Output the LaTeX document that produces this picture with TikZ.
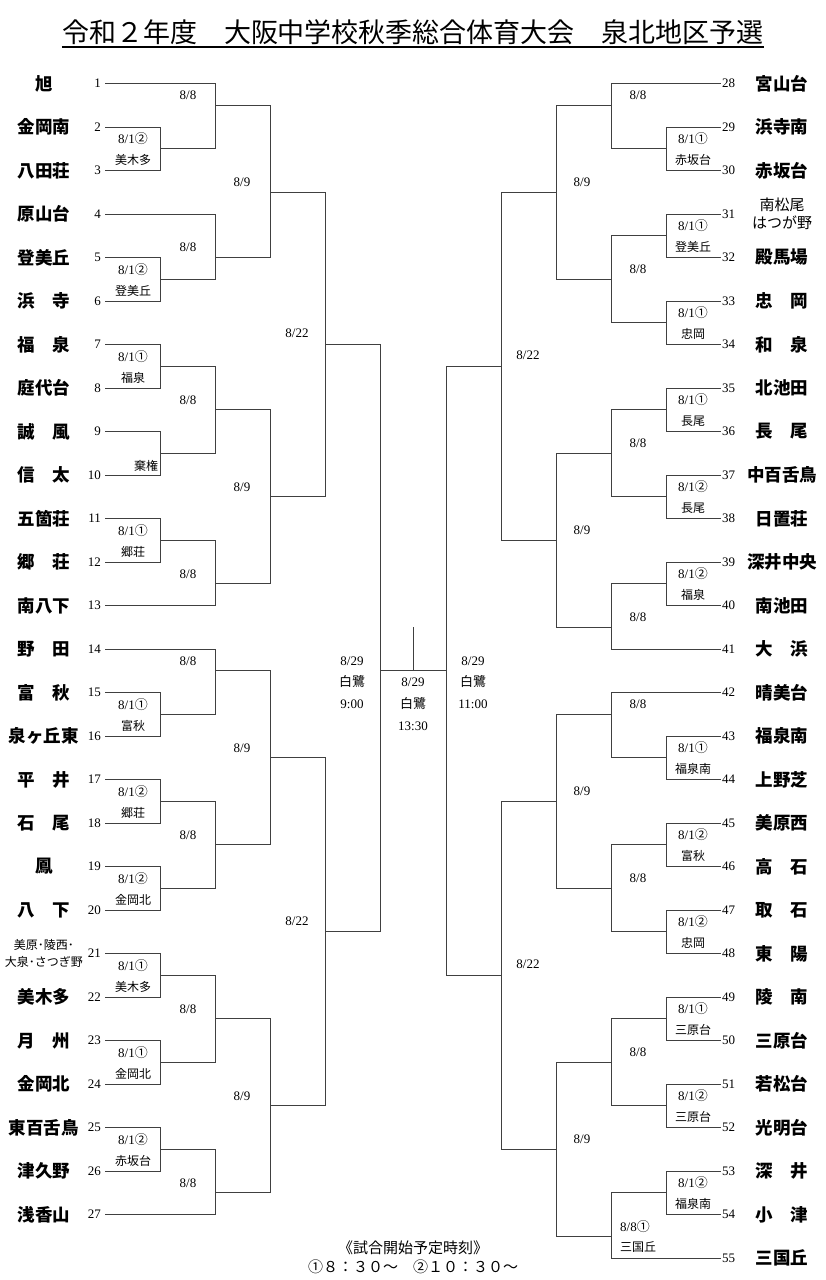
\documentclass[tikz,border=0pt]{standalone}
\usepackage{fontspec}
\setmainfont{Noto Sans CJK JP}
\newfontfamily\numfont{Liberation Serif}
\usetikzlibrary{
    positioning
}

\newcommand{\maru}[1]{{\normalfont #1}}

\tikzset{
    bracket/.style={
        line width=1pt,
        draw=black!75,
        line cap=rect
    },
    school/.style={
        font=\fontsize{17.5}{20}\selectfont\bfseries,
        inner sep=0pt
    },
    seed/.style={
        font=\numfont\fontsize{13}{15}\selectfont,
        inner sep=0pt
    },
    day/.style={
        font=\numfont\fontsize{13}{15}\selectfont,
        inner sep=0pt
    },
    winner/.style={
        font=\fontsize{12}{14}\selectfont,
        inner sep=0pt
    },
    venue/.style={
        font=\numfont\fontsize{13}{21.75}\selectfont,
        align=center,
        inner sep=0pt
    }
}

\begin{document}
\begin{tikzpicture}[
    x=1pt,
    y=-1pt
]

    \path[fill=white, use as bounding box]
        (0,0) rectangle (826,1280);

    % Title
    \node[
        font=\fontsize{27}{30}\selectfont,
        inner sep=0pt,
        anchor=base
    ] (title) at (413,42)
        {令和２年度　大阪中学校秋季総合体育大会　泉北地区予選};

    \draw[line width=1.6pt]
        ([yshift=-5pt]title.base west)
        -- ([yshift=-5pt]title.base east);

    \begin{scope}[yshift=-83.5pt, y=-21.75pt]

    % Schools, left side
    \foreach \i/\nm in {1/旭, 2/金岡南, 3/八田荘, 4/原山台, 5/登美丘,
        6/浜　寺, 7/福　泉, 8/庭代台, 9/誠　風, 10/信　太, 11/五箇荘,
        12/郷　荘, 13/南八下, 14/野　田, 15/富　秋, 16/泉ヶ丘東,
        17/平　井, 18/石　尾, 19/鳳, 20/八　下, 22/美木多, 23/月　州,
        24/金岡北, 25/東百舌鳥, 26/津久野, 27/浅香山}
        \node[school] (lname\i) at (44,{2*(\i-1)}) {\nm};

    \node[
        align=center,
        inner sep=0pt,
        font=\fontsize{12}{17}\selectfont
    ] (lname21) at (44,40)
        {美原･陵西･\\大泉･さつぎ野};

    \foreach \i in {1,...,27} {
        \node[seed, anchor=east] (lseed\i) at (101,{2*(\i-1)}) {\i};
        \coordinate (lstart\i) at (105,{2*(\i-1)});
    }

    % Schools, right side
    \foreach \i/\nm in {28/宮山台, 29/浜寺南, 30/赤坂台, 32/殿馬場,
        33/忠　岡, 34/和　泉, 35/北池田, 36/長　尾, 37/中百舌鳥,
        38/日置荘, 39/深井中央, 40/南池田, 41/大　浜, 42/晴美台,
        43/福泉南, 44/上野芝, 45/美原西, 46/高　石, 47/取　石,
        48/東　陽, 49/陵　南, 50/三原台, 51/若松台, 52/光明台,
        53/深　井, 54/小　津, 55/三国丘}
        \node[school] (rname\i) at (782,{2*(\i-28)}) {\nm};

    \node[
        align=center,
        inner sep=0pt,
        font=\fontsize{15}{18}\selectfont
    ] (rname31) at (782,6)
        {南松尾\\はつが野};

    \foreach \i in {28,...,55} {
        \node[seed, anchor=west] (rseed\i) at (722,{2*(\i-28)}) {\i};
        \coordinate (rstart\i) at (720,{2*(\i-28)});
    }

    % Lines from the schools
    \foreach \i in {2,3,5,6,7,8,9,10,11,12,15,16,17,18,19,20,21,22,23,24,25,26}
        \draw[bracket] (lstart\i) -- ++(55,0);
    \foreach \i in {1,4,13,14,27}
        \draw[bracket] (lstart\i) -- ++(110,0);
    \foreach \i in {29,...,40,43,44,45,46,47,48,49,50,51,52,53,54}
        \draw[bracket] (rstart\i) -- ++(-54,0);
    \foreach \i in {28,41,42,55}
        \draw[bracket] (rstart\i) -- ++(-109,0);

    % Left half of the bracket
    \foreach \a/\b/\o in {2/4/3, 8/10/9, 12/14/13, 16/18/17, 20/22/21,
        28/30/29, 32/34/33, 36/38/37, 40/42/41, 44/46/45, 48/50/49}
        \draw[bracket] (160,\a) -- (160,\b) (160,\o) -- (215,\o);
    \foreach \a/\b/\o in {0/3/1, 6/9/8, 13/17/15, 21/24/23,
        26/29/27, 33/37/35, 41/45/43, 49/52/51}
        \draw[bracket] (215,\a) -- (215,\b) (215,\o) -- (270,\o);
    \foreach \a/\b/\o in {1/8/5, 15/23/19, 27/35/31, 43/51/47}
        \draw[bracket] (270,\a) -- (270,\b) (270,\o) -- (325,\o);
    \foreach \a/\b/\o in {5/19/12, 31/47/39}
        \draw[bracket] (325,\a) -- (325,\b) (325,\o) -- (380,\o);

    % Final
    \draw[bracket]
        (380,12) -- (380,39)
        (380,27) -- (446,27)
        (446,13) -- (446,41);
    \draw[bracket] (413,25) -- (413,27);

    % Right half of the bracket
    \foreach \a/\b/\o in {5/21/13, 33/49/41}
        \draw[bracket] (501,\a) -- (501,\b) (501,\o) -- (446,\o);
    \foreach \a/\b/\o in {1/9/5, 17/25/21, 29/37/33, 45/53/49}
        \draw[bracket] (556,\a) -- (556,\b) (556,\o) -- (501,\o);
    \foreach \a/\b/\o in {0/3/1, 7/11/9, 15/19/17, 23/26/25,
        28/31/29, 35/39/37, 43/47/45, 51/54/53}
        \draw[bracket] (611,\a) -- (611,\b) (611,\o) -- (556,\o);
    \foreach \a/\b/\o in {2/4/3, 6/8/7, 10/12/11, 14/16/15, 18/20/19,
        22/24/23, 30/32/31, 34/36/35, 38/40/39, 42/44/43, 46/48/47, 50/52/51}
        \draw[bracket] (666,\a) -- (666,\b) (666,\o) -- (611,\o);

    % First round (8/1) dates and winners
    \foreach \a/\c/\w in {2/②/美木多, 8/②/登美丘, 12/①/福泉, 20/①/郷荘,
        28/①/富秋, 32/②/郷荘, 36/②/金岡北, 40/①/美木多, 44/①/金岡北,
        48/②/赤坂台} {
        \node[day] (lday\a) at (133,{\a+0.55}) {8/1\maru{\c}};
        \node[winner] (lwin\a) at (133,{\a+1.52}) {\w};
    }
    \node[winner] (lwin16) at (146,17.6) {棄権};

    \foreach \a/\c/\w in {2/①/赤坂台, 6/①/登美丘, 10/①/忠岡, 14/①/長尾,
        18/②/長尾, 22/②/福泉, 30/①/福泉南, 34/②/富秋, 38/②/忠岡,
        42/①/三原台, 46/②/三原台, 50/②/福泉南} {
        \node[day] (rday\a) at (693,{\a+0.55}) {8/1\maru{\c}};
        \node[winner] (rwin\a) at (693,{\a+1.52}) {\w};
    }

    % Later rounds
    \foreach \o in {1,8,15,23,27,35,43,51}
        \node[day] (lsec\o) at (188,{\o-0.45}) {8/8};
    \foreach \o in {1,9,17,25,29,37,45}
        \node[day] (rsec\o) at (638,{\o-0.45}) {8/8};
    \node[day] (rsec53) at (635,52.57) {8/8\maru{①}};
    \node[winner] (rwin53) at (638,53.5) {三国丘};

    \foreach \o in {5,19,31,47}
        \node[day] (lthird\o) at (242,{\o-0.45}) {8/9};
    \foreach \o in {5,21,33,49}
        \node[day] (rthird\o) at (582,{\o-0.45}) {8/9};

    \foreach \o in {12,39}
        \node[day] (lfourth\o) at (297,{\o-0.5}) {8/22};
    \foreach \o in {13,41}
        \node[day] (rfourth\o) at (528,{\o-0.5}) {8/22};

    % Semifinals and final at Shirasagi
    \node[venue] (lsemi) at (352,27.55) {8/29\\\maru{白鷺}\\9:00};
    \node[venue] (final) at (413,28.53) {8/29\\\maru{白鷺}\\13:30};
    \node[venue] (rsemi) at (473,27.55) {8/29\\\maru{白鷺}\\11:00};

    \end{scope}

    % Start times
    \node[
        font=\fontsize{15}{18}\selectfont,
        inner sep=0pt
    ] (note) at (413,1248)
        {《試合開始予定時刻》};

    \node[
        font=\fontsize{15}{18}\selectfont,
        inner sep=0pt,
        below=4pt of note
    ] (times)
        {①８：３０～　②１０：３０～};

\end{tikzpicture}
\end{document}
